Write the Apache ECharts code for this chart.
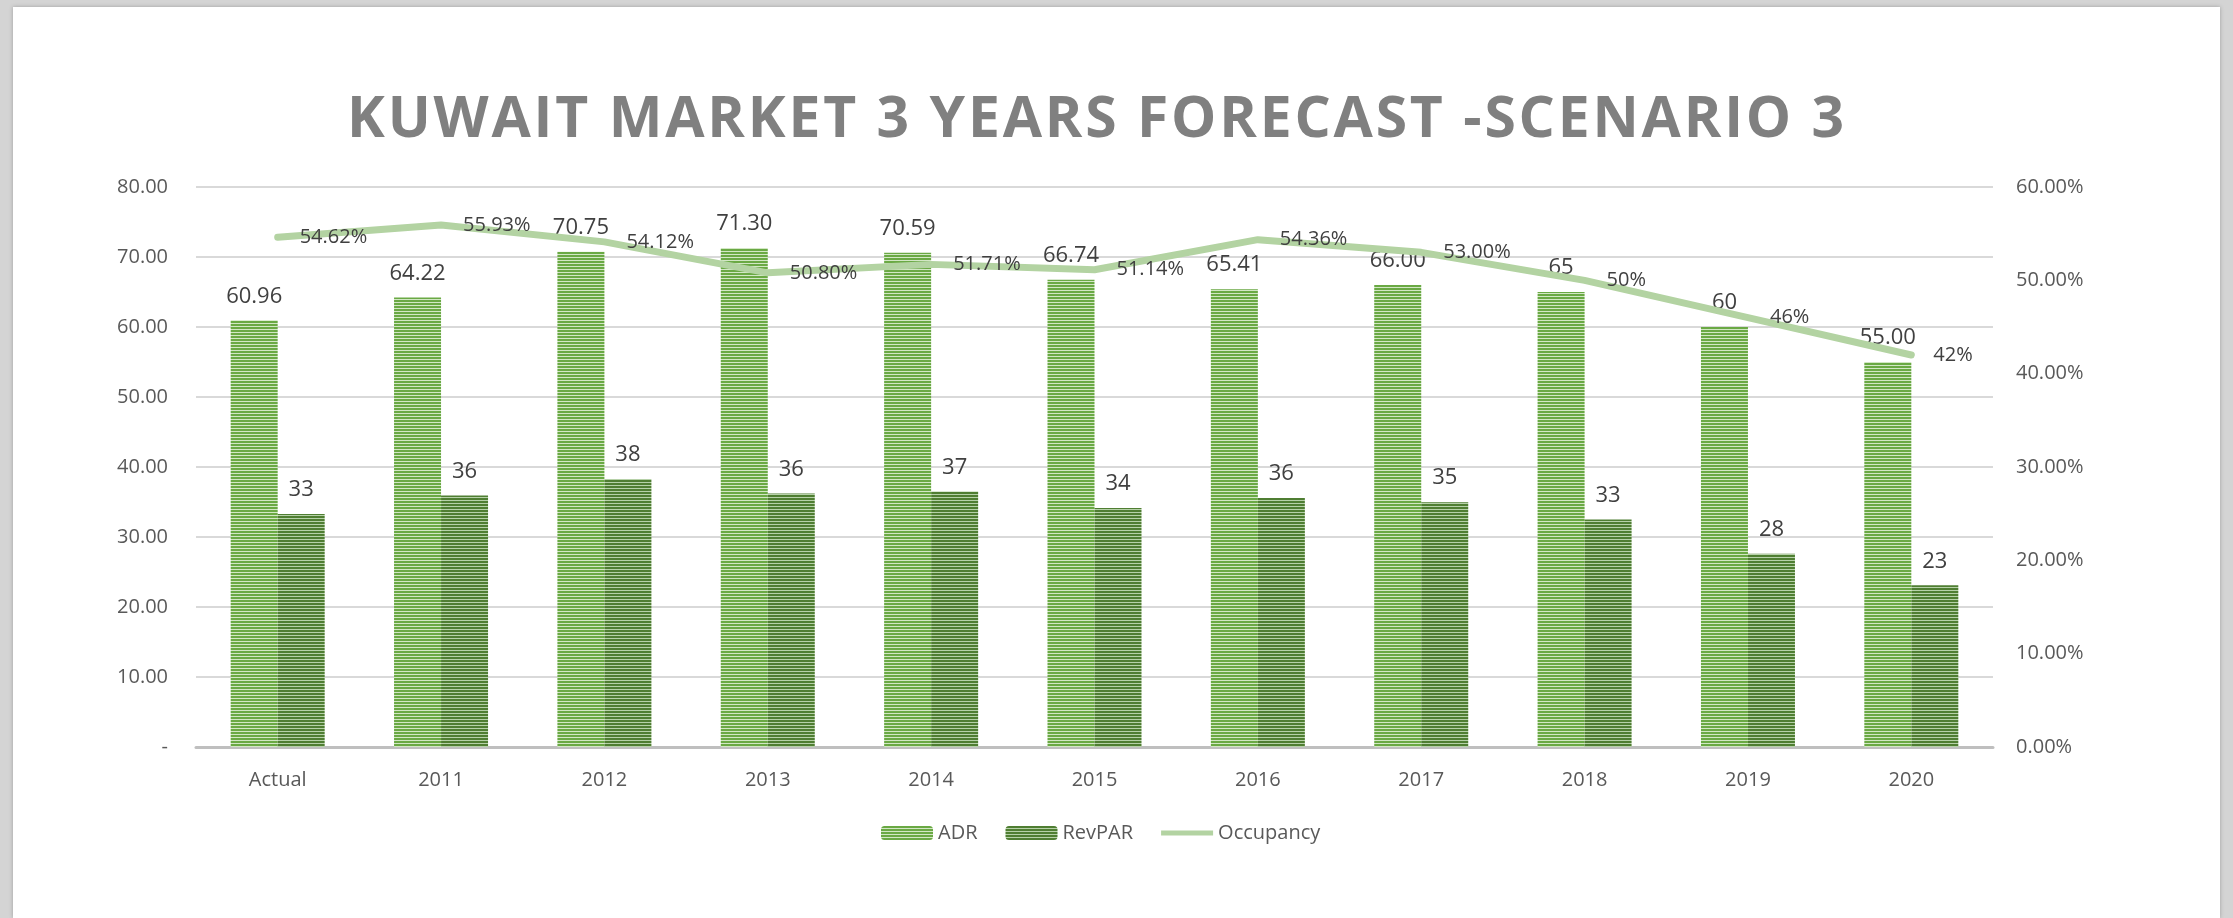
<!DOCTYPE html>
<html>
<head>
<meta charset="utf-8">
<script src="https://cdn.jsdelivr.net/npm/echarts@6/dist/echarts.min.js"></script>
<style>
  html, body { margin: 0; padding: 0; width: 2233px; height: 918px; background: #d4d4d4; overflow: hidden; }
  #panel { position: absolute; left: 13px; top: 7px; width: 2207px; height: 911px; background: #ffffff; box-shadow: 0 0 4px rgba(0,0,0,0.25); }
  #chart { position: absolute; left: 0; top: 0; width: 2233px; height: 918px; }
  #title { position: absolute; left: 0; top: 0; width: 2233px; height: 170px; pointer-events: none; }
</style>
</head>
<body>
<div id="panel"></div>
<div id="chart"></div>
<div id="title"></div>
<script>
// ---- data ----
const categories = ['Actual', '2011', '2012', '2013', '2014', '2015', '2016', '2017', '2018', '2019', '2020'];
const adr = [60.96, 64.22, 70.75, 71.30, 70.59, 66.74, 65.41, 66.00, 65, 60, 55.00];
const revpar = [33.30, 35.92, 38.29, 36.22, 36.50, 34.13, 35.56, 34.98, 32.5, 27.6, 23.1];
const occupancy = [0.5462, 0.5593, 0.5412, 0.5080, 0.5171, 0.5114, 0.5436, 0.5300, 0.50, 0.46, 0.42];
const adrDecimals = [2, 2, 2, 2, 2, 2, 2, 2, 0, 0, 2];
const revparDecimals = [0, 0, 0, 0, 0, 0, 0, 0, 0, 0, 0];
const occDecimals = [2, 2, 2, 2, 2, 2, 2, 2, 0, 0, 0];
const leftTicks = { min: 0, max: 80, interval: 10 };
const rightTicks = { min: 0, max: 0.6, interval: 0.1 };
const titleText = 'KUWAIT MARKET 3 YEARS FORECAST -SCENARIO 3';

// the reference title is letter-spaced: apply canvas letterSpacing to that string only
(function () {
  const proto = CanvasRenderingContext2D.prototype;
  const origFill = proto.fillText;
  proto.fillText = function (t, x, y, w) {
    if (t === titleText && 'letterSpacing' in this) {
      this.letterSpacing = '2.8px';
    }
    return w === undefined ? origFill.call(this, t, x, y) : origFill.call(this, t, x, y, w);
  };
})();

function stripe(dark, light) {
  const c = document.createElement('canvas');
  c.width = 4; c.height = 3;
  const ctx = c.getContext('2d');
  ctx.fillStyle = dark; ctx.fillRect(0, 0, 4, 2);
  ctx.fillStyle = light; ctx.fillRect(0, 2, 4, 1);
  return { image: c, repeat: 'repeat' };
}

const FONT = '"Open Sans", "Noto Sans", sans-serif';

// title lives in its own small instance so its letter spacing cannot reach other labels
const titleChart = echarts.init(document.getElementById('title'), null, { renderer: 'canvas' });
titleChart.setOption({
  animation: false,
  backgroundColor: 'transparent',
  graphic: [{
    type: 'text', x: 1097, y: 121,
    style: {
      text: titleText, fill: '#808080',
      font: 'bold 57px ' + FONT,
      textAlign: 'center', textVerticalAlign: 'middle'
    }
  }]
});

const chart = echarts.init(document.getElementById('chart'), null, { renderer: 'canvas' });
chart.setOption({
  animation: false,
  backgroundColor: 'transparent',
  textStyle: { fontFamily: FONT },
  grid: { left: 196, right: 240, top: 187, bottom: 171, containLabel: false },
  legend: {
    left: 876, top: 818,
    itemWidth: 52, itemHeight: 14, itemGap: 28,
    textStyle: { fontSize: 20, color: '#595959', fontFamily: FONT },
    data: ['ADR', 'RevPAR', { name: 'Occupancy', icon: 'path://M0,0 L10,0 L10,1 L0,1 Z' }]
  },
  xAxis: {
    type: 'category', data: categories,
    axisLine: { lineStyle: { color: '#bfbfbf', width: 3 } },
    axisTick: { show: false },
    axisLabel: { fontSize: 20, color: '#595959', margin: 23, fontFamily: FONT }
  },
  yAxis: [{
    type: 'value', min: leftTicks.min, max: leftTicks.max, interval: leftTicks.interval,
    axisLine: { show: false }, axisTick: { show: false },
    splitLine: { lineStyle: { color: '#d9d9d9', width: 2 } },
    axisLabel: {
      fontSize: 20, color: '#595959', margin: 28, fontFamily: FONT,
      formatter: v => v === 0 ? '-' : v.toFixed(2)
    }
  }, {
    type: 'value', min: rightTicks.min, max: rightTicks.max, interval: rightTicks.interval,
    axisLine: { show: false }, axisTick: { show: false },
    splitLine: { show: false },
    axisLabel: {
      fontSize: 20, color: '#595959', margin: 23, fontFamily: FONT,
      formatter: v => (v * 100).toFixed(2) + '%'
    }
  }],
  series: [{
    name: 'ADR', type: 'bar', data: adr, barWidth: 47, barGap: '0%',
    itemStyle: { color: stripe('#6aa944', '#d2e7c4') },
    label: {
      show: true, position: 'top', distance: 13, fontSize: 22, color: '#404040', fontFamily: FONT,
      formatter: p => p.value.toFixed(adrDecimals[p.dataIndex])
    }
  }, {
    name: 'RevPAR', type: 'bar', data: revpar, barWidth: 47, barGap: '0%',
    itemStyle: { color: stripe('#4f7e32', '#b6d1a8') },
    label: {
      show: true, position: 'top', distance: 13, fontSize: 22, color: '#404040', fontFamily: FONT,
      formatter: p => Math.round(p.value).toFixed(revparDecimals[p.dataIndex])
    }
  }, {
    name: 'Occupancy', type: 'line', yAxisIndex: 1, data: occupancy, z: 5,
    symbol: 'circle', symbolSize: 0, showSymbol: true,
    itemStyle: { color: '#b3d3a2' },
    lineStyle: { color: '#b3d3a2', width: 7, cap: 'round', join: 'round' },
    label: {
      show: true, position: 'right', distance: 22, fontSize: 20, color: '#404040', fontFamily: FONT,
      formatter: p => (p.value * 100).toFixed(occDecimals[p.dataIndex]) + '%'
    }
  }]
});
</script>
</body>
</html>
